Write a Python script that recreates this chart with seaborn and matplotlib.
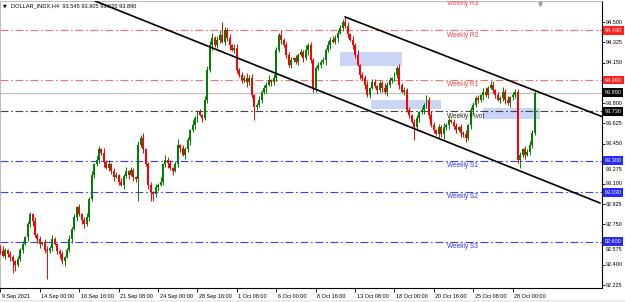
import matplotlib
matplotlib.use("Agg")
import numpy as np
import pandas as pd
import matplotlib.pyplot as plt
import matplotlib.transforms as mtransforms
from matplotlib.patches import Rectangle
import seaborn as sns

# ---------------- data ----------------
first_open = 92.55
closes = [
    92.52, 92.48, 92.53, 92.49, 92.465, 92.43, 92.40, 92.45,
    92.53, 92.58, 92.64, 92.75, 92.84, 92.78, 92.66, 92.62,
    92.58, 92.60, 92.53, 92.52, 92.55, 92.62, 92.58, 92.52,
    92.49, 92.43, 92.47, 92.53, 92.62, 92.71, 92.81, 92.90,
    92.84, 92.79, 92.75, 92.81, 92.97, 93.18, 93.27, 93.31,
    93.40, 93.37, 93.29, 93.24, 93.27, 93.21, 93.16, 93.18,
    93.12, 93.09, 93.17, 93.21, 93.18, 93.22, 93.16, 93.14,
    93.44, 93.50, 93.40, 93.27, 93.09, 93.03, 93.01, 93.07,
    93.09, 93.12, 93.27, 93.31, 93.28, 93.24, 93.21, 93.27,
    93.44, 93.41, 93.35, 93.40, 93.48, 93.57, 93.61, 93.67,
    93.72, 93.70, 93.67, 93.83, 94.09, 94.30, 94.36, 94.30,
    94.35, 94.39, 94.33, 94.43, 94.36, 94.30, 94.26, 94.28,
    94.09, 94.04, 94.00, 94.02, 93.98, 94.02, 93.87, 93.77,
    93.78, 93.83, 93.90, 93.93, 93.96, 94.00, 93.98, 94.02,
    94.26, 94.39, 94.35, 94.30, 94.22, 94.13, 94.17, 94.19,
    94.16, 94.22, 94.24, 94.19, 94.26, 94.30, 94.17, 93.93,
    94.10, 94.13, 94.16, 94.17, 94.26, 94.30, 94.35, 94.33,
    94.36, 94.41, 94.45, 94.50, 94.47, 94.40, 94.35, 94.30,
    94.22, 94.13, 94.04, 94.02, 93.96, 93.87, 93.93, 93.98,
    93.95, 93.91, 93.97, 93.93, 93.90, 93.96, 94.00, 94.02,
    94.04, 94.10, 93.96, 93.90, 93.91, 93.74, 93.70, 93.64,
    93.59, 93.67, 93.72, 93.74, 93.78, 93.83, 93.70, 93.61,
    93.57, 93.53, 93.59, 93.53, 93.59, 93.61, 93.65, 93.64,
    93.60, 93.57, 93.59, 93.54, 93.53, 93.50, 93.61, 93.74,
    93.78, 93.84, 93.83, 93.87, 93.90, 93.87, 93.93, 93.96,
    93.91, 93.87, 93.83, 93.84, 93.90, 93.83, 93.80, 93.85,
    93.87, 93.90, 93.31, 93.35, 93.40, 93.35, 93.38, 93.44,
    93.545, 93.89,
]
# wick lengths above / below the body, in hundredths of a point
wick_up = [
    2, 4, 2, 1, 3, 2, 1, 3,   2, 3, 1, 3, 2, 1, 3, 2,
    3, 1, 2, 3, 1, 4, 2, 1,   2, 3, 1, 2, 4, 2, 3, 1,
    3, 1, 2, 4, 2, 3, 1, 3,   3, 1, 4, 2, 4, 1, 3, 2,
    1, 3, 2, 4, 1, 3, 2, 1,   3, 2, 4, 1, 2, 3, 1, 3,
    2, 4, 1, 4, 2, 3, 1, 3,   5, 1, 3, 2, 3, 1, 4, 2,
    2, 3, 1, 3, 3, 4, 5, 2,   3, 4, 11, 3, 2, 4, 1, 3,
    3, 1, 3, 2, 4, 2, 3, 1,   2, 3, 1, 3, 2, 4, 1, 3,
    3, 2, 4, 1, 3, 2, 3, 1,   3, 1, 3, 2, 4, 2, 3, 2,
    2, 3, 1, 3, 2, 4, 2, 3,   3, 2, 3, 3, 5, 3, 1, 3,
    2, 4, 1, 3, 2, 3, 1, 3,   3, 1, 3, 2, 4, 2, 3, 1,
    3, 2, 4, 1, 3, 2, 3, 1,   2, 3, 1, 3, 2, 4, 2, 3,
    3, 1, 3, 2, 4, 2, 3, 1,   2, 3, 1, 3, 2, 4, 1, 3,
    3, 2, 3, 1, 3, 4, 2, 3,   3, 1, 3, 2, 4, 2, 3, 1,
    3, 2, 2, 3, 1, 3, 2, 3,   2, 1.5,
]
wick_dn = [
    3, 1, 3, 2, 3, 10, 5, 2,  2, 3, 1, 3, 2, 4, 2, 3,
    3, 1, 3, 24, 2, 3, 1, 3,  3, 2, 4, 1, 2, 3, 1, 3,
    2, 4, 3, 1, 3, 2, 3, 1,   3, 2, 4, 1, 3, 2, 3, 1,
    3, 1, 3, 2, 4, 1, 3, 2,   19, 2, 3, 1, 3, 8, 6, 2,
    3, 1, 3, 2, 4, 2, 3, 1,   2, 3, 1, 3, 2, 4, 2, 3,
    3, 1, 3, 2, 3, 2, 4, 1,   2, 3, 1, 3, 2, 4, 1, 3,
    3, 1, 3, 2, 4, 2, 3, 12,  3, 1, 3, 2, 4, 1, 3, 2,
    3, 2, 4, 1, 3, 2, 3, 1,   2, 3, 1, 3, 2, 4, 2, 3,
    3, 1, 3, 2, 4, 2, 3, 1,   2, 3, 1, 3, 2, 4, 1, 3,
    3, 1, 3, 2, 4, 2, 3, 1,   2, 3, 1, 3, 2, 4, 2, 3,
    3, 2, 4, 1, 3, 2, 3, 1,   11, 2, 3, 1, 3, 2, 4, 2,
    3, 1, 3, 2, 4, 2, 3, 1,   2, 3, 1, 3, 2, 4, 2, 3,
    3, 1, 3, 2, 4, 2, 3, 1,   2, 3, 1, 3, 2, 4, 2, 3,
    2, 3, 3, 7, 2, 3, 1, 3,   3, 2.5,
]

date_labels = ["9 Sep 2021", "14 Sep 00:00", "16 Sep 16:00", "21 Sep 08:00",
               "24 Sep 00:00", "28 Sep 16:00", "1 Oct 08:00", "6 Oct 00:00",
               "8 Oct 16:00", "13 Oct 08:00", "18 Oct 00:00", "20 Oct 16:00",
               "25 Oct 08:00", "28 Oct 00:00"]
date_label_bars = [0, 16, 32, 48, 64, 80, 96, 112, 128, 144, 160, 176, 192, 208]

price_ticks = [94.500, 94.325, 94.150, 93.975, 93.800, 93.625, 93.450,
               93.275, 93.100, 92.925, 92.750, 92.575, 92.400, 92.225]

pivot_names = ["Weekly R3", "Weekly R2", "Weekly R1", "Weekly Pivot",
               "Weekly S1", "Weekly S2", "Weekly S3"]
pivot_values = [94.700, 94.430, 94.000, 93.730, 93.300, 93.030, 92.600]

last_price = 93.890
title_text = "DOLLAR_INDX,H4  93.545 93.905 93.520 93.890"

channel_lower_bar = [38.4, 243.5]
channel_lower_price = [94.684, 92.935]
channel_upper_bar = [139.9, 244.7]
channel_upper_price = [94.546, 93.680]

zone_bar_start = [138.0, 150.5, 196.0]
zone_bar_end = [163.0, 179.0, 219.0]
zone_low = [94.122, 93.750, 93.663]
zone_high = [94.243, 93.827, 93.758]

# ---------------- styles ----------------
RED_LINE = "#ff6a6a"
RED_BOX = "#ff2020"
BLUE_LINE = "#3c3cff"
BLUE_BOX = "#2828ff"
DARK_LINE = "#444444"
UP = "#008000"
DOWN = "#ff0000"
pivot_line_colors = [RED_LINE, RED_LINE, RED_LINE, DARK_LINE, BLUE_LINE, BLUE_LINE, BLUE_LINE]
pivot_text_colors = ["#ff4040", "#ff4040", "#ff4040", "#222222", "#3030ff", "#3030ff", "#3030ff"]
pivot_box_colors = [RED_BOX, RED_BOX, RED_BOX, "#000000", BLUE_BOX, BLUE_BOX, BLUE_BOX]

sns.set_theme(style="white")
plt.rcParams["font.family"] = ["Liberation Sans", "DejaVu Sans"]

df = pd.DataFrame({"close": closes})
df["bar"] = np.arange(len(df))
df["open"] = [first_open] + closes[:-1]
df["high"] = df[["open", "close"]].max(axis=1) + np.array(wick_up) * 0.01
df["low"] = df[["open", "close"]].min(axis=1) - np.array(wick_dn) * 0.01
df["up"] = df["close"] >= df["open"]

W, H = 625, 302
fig = plt.figure(figsize=(W / 100, H / 100), dpi=100)
fig.patch.set_facecolor("white")
ax = fig.add_axes([0, 14 / H, 602 / W, 287 / H])
ax.set_facecolor("white")

x_left, x_right = -0.2, 244.27
y_low, y_high = 92.1996, 94.684
ax.set_xlim(x_left, x_right)
ax.set_ylim(y_low, y_high)
px_per_price = 287 / (y_high - y_low)

# zones
for xs, xe, lo, hi in zip(zone_bar_start, zone_bar_end, zone_low, zone_high):
    ax.add_patch(Rectangle((xs, lo), xe - xs, hi - lo, facecolor="#c9d4f6",
                           edgecolor="none", zorder=1))

# pivot lines
for val, col in zip(pivot_values, pivot_line_colors):
    ax.axhline(val, color=col, lw=0.8, dashes=(7, 2.5, 1.5, 2.5), zorder=2)

# current price line
ax.axhline(last_price, color="#bdbdbd", lw=0.8, zorder=2)

# candles
colors = np.where(df["up"], UP, DOWN)
ax.vlines(df["bar"], df["low"], df["high"], colors=colors, lw=0.7, zorder=3)
heights = (df["close"] - df["open"]).to_numpy()
heights = np.where(np.abs(heights) < 0.005, 0.005, heights)
ax.bar(df["bar"], heights, bottom=df["open"], width=0.8, color=colors,
       linewidth=0, zorder=3)

# channel lines
sns.lineplot(x=channel_lower_bar, y=channel_lower_price, ax=ax, color="black",
             lw=1.2, zorder=4)
sns.lineplot(x=channel_upper_bar, y=channel_upper_price, ax=ax, color="black",
             lw=1.2, zorder=4)

# pivot text labels
for name, val, tc in zip(pivot_names, pivot_values, pivot_text_colors):
    ax.text(181.3, val - 4.8 / px_per_price, name, color=tc, fontsize=4.7,
            va="center", ha="left", zorder=6, clip_on=True)

# axes styling
for s in ["left", "top"]:
    ax.spines[s].set_color("#b0b0b0")
    ax.spines[s].set_linewidth(0.6)
for s in ["right", "bottom"]:
    ax.spines[s].set_color("black")
    ax.spines[s].set_linewidth(0.8)

# right price scale: tick marks for every level, labels as text
ax.yaxis.tick_right()
ax.set_yticks(price_ticks)
ax.set_yticklabels([])
ax.tick_params(axis="y", right=True, left=False, length=2, width=0.6,
               direction="out", colors="black")
blend = mtransforms.blended_transform_factory(ax.transAxes, ax.transData)
box_levels = [v for v in pivot_values if y_low < v < y_high] + [last_price]
for v in price_ticks:
    nearest = min(box_levels, key=lambda b: abs(v - b))
    gap_px = abs(v - nearest) * px_per_price
    y_text = v
    if gap_px < 8:
        # label sits just below the price box that partly covers it
        y_text = nearest - 8.2 / px_per_price
        others = [b for b in box_levels if b != nearest]
        if min(abs(y_text - b) for b in others) * px_per_price < 9:
            continue  # squeezed between two boxes: hidden as in the reference
    ax.text(1 + 3.5 / 602, y_text, f"{v:.3f}", transform=blend, fontsize=4.0,
            color="black", va="center", ha="left", clip_on=False, zorder=5)

ax.set_xticks(date_label_bars)
ax.set_xticklabels(date_labels)
ax.tick_params(axis="x", bottom=True, length=3, width=0.6, direction="out",
               pad=1.0, labelsize=4.0, colors="black")
offset = mtransforms.ScaledTranslation(1.5 / 100, 0, fig.dpi_scale_trans)
for lab in ax.get_xticklabels():
    lab.set_horizontalalignment("left")
    lab.set_transform(lab.get_transform() + offset)
ax.grid(False)
ax.set_xlabel("")
ax.set_ylabel("")

# price boxes on the right axis
box_x = 1 + 2.5 / 602
for val, bc in zip(pivot_values, pivot_box_colors):
    if y_low < val < y_high:
        ax.text(box_x, val, f"{val:.3f}", transform=blend, fontsize=4.0,
                color="white", va="center", ha="left", zorder=7, clip_on=False,
                bbox=dict(boxstyle="square,pad=0.35", fc=bc, ec="none"))
ax.text(box_x, last_price, f"{last_price:.3f}", transform=blend, fontsize=4.0,
        color="white", va="center", ha="left", zorder=7, clip_on=False,
        bbox=dict(boxstyle="square,pad=0.35", fc="black", ec="none"))

# chart-shift marker
ax.plot([540 / 602], [1 - 3 / 287], marker="v", ms=2.5, color="#a0a0a0",
        transform=ax.transAxes, clip_on=False, zorder=8)

# title
fig.text(3 / W, 1 - 6 / H, "\u25BC", fontsize=3.5, color="black",
         va="center", ha="left", family="DejaVu Sans")
fig.text(11 / W, 1 - 6 / H, title_text, fontsize=4.1, color="black",
         va="center", ha="left")

# bottom window strip
fig.patches.append(Rectangle((0, 0), 1, 2.5 / H, transform=fig.transFigure,
                             facecolor="#ececec", edgecolor="none"))

fig.savefig("out.png", dpi=100)
